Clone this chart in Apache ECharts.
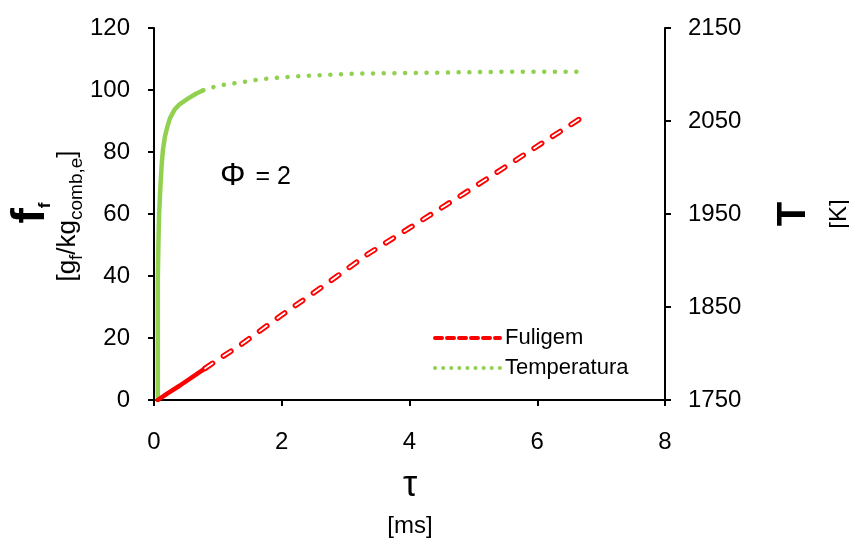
<!DOCTYPE html>
<html>
<head>
<meta charset="utf-8">
<script src="https://cdn.jsdelivr.net/npm/echarts@6/dist/echarts.min.js"></script>
<style>
html,body{margin:0;padding:0;background:#fff;}
#chart{width:849px;height:538px;}
</style>
</head>
<body>
<div id="chart"></div>
<script>
// ---- Data ----
const xTicks = [0, 2, 4, 6, 8];
const leftTicks = [0, 20, 40, 60, 80, 100, 120];
const rightTicks = [1750, 1850, 1950, 2050, 2150];

// Fuligem (soot), left axis [g_f/kg_comb,e] vs tau [ms]
const sootTau = [0.06, 0.2, 0.4, 0.8, 1.0, 1.35, 2.0, 2.75, 3.35, 4.0, 4.84, 5.5, 6.1, 6.69];
const sootVal = [0, 2.0, 4.6, 10.2, 13.0, 17.7, 27.4, 38.2, 47.1, 55.5, 66.4, 75.2, 83.2, 91.0];
const sootSolidEnd = 3; // dense early points look solid

// Temperatura, right axis [K] vs tau [ms]
const tempTau = [0.06, 0.06, 0.07, 0.08, 0.10, 0.12, 0.14, 0.17, 0.21, 0.25, 0.32, 0.40, 0.53, 0.65, 0.77, 1.0, 1.31, 1.68, 2.2, 3.17, 4.42, 5.5, 6.67];
const tempVal = [1750, 1880, 1922, 1950, 1979, 2003, 2019, 2033, 2044, 2053, 2062, 2068, 2074, 2079, 2083, 2088, 2091, 2095, 2098, 2101, 2102, 2103, 2103];
const tempSolidEnd = 14;

const pairs = (xs, ys, a, b) => xs.slice(a, b).map((x, i) => [x, ys[a + i]]);

const FONT = "'Liberation Sans', Arial, sans-serif";
const RED = '#FF0000';
const GREEN = '#92D050';

const chart = echarts.init(document.getElementById('chart'), null, {renderer: 'canvas'});

const axisCommon = {
  axisLine: {show: true, onZero: false, lineStyle: {color: '#000', width: 2}},
  axisTick: {show: true, inside: false, length: 6, lineStyle: {color: '#000', width: 2}},
  splitLine: {show: false},
  axisLabel: {color: '#000', fontSize: 24, fontFamily: FONT, formatter: v => String(v)}
};

const option = {
  animation: false,
  backgroundColor: '#fff',
  grid: {left: 154, right: 184, top: 28, bottom: 138, containLabel: false},
  xAxis: Object.assign({}, axisCommon, {
    type: 'value', min: xTicks[0], max: xTicks[xTicks.length - 1], interval: 2,
    axisLabel: Object.assign({}, axisCommon.axisLabel, {margin: 30})
  }),
  yAxis: [
    Object.assign({}, axisCommon, {
      type: 'value', position: 'left', min: leftTicks[0], max: leftTicks[leftTicks.length - 1], interval: 20,
      axisLabel: Object.assign({}, axisCommon.axisLabel, {margin: 24})
    }),
    Object.assign({}, axisCommon, {
      type: 'value', position: 'right', min: rightTicks[0], max: rightTicks[rightTicks.length - 1], interval: 100,
      axisLabel: Object.assign({}, axisCommon.axisLabel, {margin: 23})
    })
  ],
  legend: {
    orient: 'vertical',
    left: 433, top: 327,
    padding: 0,
    itemGap: 8,
    itemWidth: 65, itemHeight: 14,
    data: [
      {name: 'Fuligem', itemStyle: {opacity: 0}, lineStyle: {color: RED, width: 4, type: [7, 5], cap: 'round'}},
      {name: 'Temperatura', itemStyle: {opacity: 0}, lineStyle: {color: GREEN, width: 4, type: [0.1, 8], cap: 'round'}}
    ],
    textStyle: {color: '#000', fontSize: 22, fontFamily: FONT, lineHeight: 22},
    selectedMode: false
  },
  series: [
    {
      name: 'Temperatura', type: 'line', yAxisIndex: 1, symbol: 'none', showSymbol: false,
      data: pairs(tempTau, tempVal, tempSolidEnd, tempTau.length),
      lineStyle: {color: GREEN, width: 4.5, type: [0.1, 10.6], cap: 'round'},
      itemStyle: {color: GREEN}
    },
    {
      name: 'Temperatura', type: 'line', yAxisIndex: 1, symbol: 'none', showSymbol: false,
      data: pairs(tempTau, tempVal, 0, tempSolidEnd + 1),
      lineStyle: {color: GREEN, width: 4.5, type: 'solid', cap: 'round', join: 'round'},
      itemStyle: {color: GREEN}
    },
    {
      name: 'Fuligem', type: 'line', yAxisIndex: 0, symbol: 'none', showSymbol: false,
      data: pairs(sootTau, sootVal, sootSolidEnd, sootTau.length),
      lineStyle: {color: RED, width: 5.5, type: [9, 13], cap: 'round'},
      itemStyle: {color: RED}
    },
    {
      name: 'Fuligem', type: 'line', yAxisIndex: 0, symbol: 'none', showSymbol: false,
      data: pairs(sootTau, sootVal, 0, sootSolidEnd + 1),
      lineStyle: {color: RED, width: 4.5, type: 'solid', cap: 'round', join: 'round'},
      itemStyle: {color: RED}
    },
    {
      name: 'Fuligem_inner', type: 'line', yAxisIndex: 0, symbol: 'none', showSymbol: false,
      data: pairs(sootTau, sootVal, sootSolidEnd, sootTau.length),
      lineStyle: {color: '#fff', width: 1.8, type: [9, 13], cap: 'round'},
      itemStyle: {color: '#fff'},
      silent: true
    }
  ],
  graphic: [
    // left axis title: f_f
    {
      type: 'text', x: 31, y: 213, rotation: Math.PI / 2,
      style: {
        text: '{b|f}{s|f}', align: 'center', verticalAlign: 'middle', fill: '#000',
        rich: {
          b: {fontSize: 46, fontWeight: 'bold', fontFamily: FONT, lineHeight: 46, verticalAlign: 'middle'},
          s: {fontSize: 17, fontWeight: 'bold', fontFamily: FONT, lineHeight: 44, verticalAlign: 'bottom'}
        }
      }
    },
    // left axis unit: [g_f/kg_comb,e]
    {
      type: 'text', x: 68, y: 216, rotation: Math.PI / 2,
      style: {
        text: '{m|[g}{s|f}{m|/kg}{s|comb,e}{m|]}', align: 'center', verticalAlign: 'middle', fill: '#000',
        rich: {
          m: {fontSize: 26, fontFamily: FONT, lineHeight: 26, verticalAlign: 'middle'},
          s: {fontSize: 19, fontFamily: FONT, lineHeight: 36, verticalAlign: 'bottom'}
        }
      }
    },
    // right axis title: T [K]
    {
      type: 'text', x: 794, y: 214, rotation: Math.PI / 2,
      style: {text: 'T', align: 'center', verticalAlign: 'middle', fill: '#000',
        fontSize: 40, fontWeight: 'bold', fontFamily: FONT}
    },
    {
      type: 'text', x: 839, y: 214, rotation: Math.PI / 2,
      style: {text: '[K]', align: 'center', verticalAlign: 'middle', fill: '#000',
        fontSize: 24, fontFamily: FONT}
    },
    // x axis title
    {
      type: 'text', x: 410, y: 486,
      style: {text: 'τ', align: 'center', verticalAlign: 'middle', fill: '#000',
        fontSize: 36, fontFamily: FONT}
    },
    {
      type: 'text', x: 410, y: 526,
      style: {text: '[ms]', align: 'center', verticalAlign: 'middle', fill: '#000',
        fontSize: 24, fontFamily: FONT}
    },
    // annotation
    {
      type: 'text', x: 220, y: 176,
      style: {
        text: '{a|Φ}{b| = 2}', align: 'left', verticalAlign: 'middle', fill: '#000',
        rich: {
          a: {fontSize: 32, fontFamily: FONT, verticalAlign: 'bottom', lineHeight: 32},
          b: {fontSize: 25, fontFamily: FONT, verticalAlign: 'bottom', lineHeight: 30, padding: [0, 0, 2, 3]}
        }
      }
    }
  ]
};

chart.setOption(option);
</script>
</body>
</html>
